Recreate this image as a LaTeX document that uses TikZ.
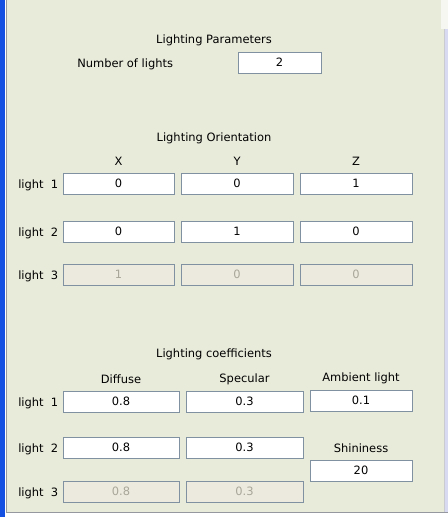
\documentclass[tikz,border=0pt]{standalone}
\usepackage{fontspec}
\setmainfont{DejaVu Sans}
\definecolor{panelbg}{RGB}{232,234,218}
\definecolor{winblue}{RGB}{20,80,225}
\definecolor{fieldline}{RGB}{128,146,162}
\definecolor{offbg}{RGB}{236,234,222}
\definecolor{offtext}{RGB}{168,166,152}
\definecolor{edgeline}{RGB}{150,152,160}
\definecolor{barside}{RGB}{215,218,240}
\tikzset{
  field/.style={draw=fieldline, fill=white, minimum width=#1*0.75pt, minimum height=15.75pt, inner sep=0pt},
  offfield/.style={field=#1, fill=offbg, text=offtext},
  caption/.style={inner sep=0pt, yshift=-0.75pt}
}

\begin{document}
\begin{tikzpicture}[x=0.75pt, y=-0.75pt, every node/.style={font=\fontsize{8.6}{10}\selectfont}]
        % Window frame
        \useasboundingbox (0,0) rectangle (448,517);
        \fill[panelbg] (0,0) rectangle (448,517);
        \fill[winblue] (0,0) rectangle (5,517);
        \fill[white] (5,0) rectangle (6,517);
        \fill[edgeline] (6,0) rectangle (7,513);
        \fill[edgeline] (6,512) rectangle (448,513);
        \fill[white] (6,513) rectangle (448,517);
        \fill[white!60!panelbg] (441,0) rectangle (448,29);
        \fill[barside] (444,29) rectangle (448,512);
        \fill[edgeline!50] (444,29) rectangle (445,512);

        % Lighting parameters
        \node[caption] (partitle) at (214,39) {Lighting Parameters};
        \node[caption, anchor=west] (numlabel) at (77,63) {Number of lights};
        \node[field=83] (numlights) at (279.5,62.5) {2};

        % Lighting orientation
        \node[caption] (orititle) at (214,137) {Lighting Orientation};
        \node[caption] (xhead) at (118.5,160) {X};
        \node[caption] (yhead) at (237,160) {Y};
        \node[caption] (zhead) at (356,160) {Z};

        \node[caption, anchor=west] (olight1) at (18,184) {light\ \ 1};
        \node[field=111] (ox1) at (118.5,183.5) {0};
        \node[field=112] (oy1) at (237,183.5) {0};
        \node[field=112] (oz1) at (356,183.5) {1};

        \node[caption, anchor=west] (olight2) at (18,232) {light\ \ 2};
        \node[field=111] (ox2) at (118.5,231.5) {0};
        \node[field=112] (oy2) at (237,231.5) {1};
        \node[field=112] (oz2) at (356,231.5) {0};

        \node[caption, anchor=west] (olight3) at (18,275) {light\ \ 3};
        \node[offfield=111] (ox3) at (118.5,274.5) {1};
        \node[offfield=112] (oy3) at (237,274.5) {0};
        \node[offfield=112] (oz3) at (356,274.5) {0};

        % Lighting coefficients
        \node[caption] (coeftitle) at (214,353) {Lighting coefficients};
        \node[caption] (diffhead) at (121,378) {Diffuse};
        \node[caption] (spechead) at (244.5,378) {Specular};
        \node[caption] (ambhead) at (361,377) {Ambient light};

        \node[caption, anchor=west] (clight1) at (18,402) {light\ \ 1};
        \node[field=116] (cd1) at (121,401.5) {0.8};
        \node[field=117] (cs1) at (244.5,401.5) {0.3};
        \node[field=102] (ambient) at (361,400.5) {0.1};

        \node[caption, anchor=west] (clight2) at (18,448) {light\ \ 2};
        \node[field=116] (cd2) at (121,447.5) {0.8};
        \node[field=117] (cs2) at (244.5,447.5) {0.3};
        \node[caption] (shinhead) at (361,447) {Shininess};
        \node[field=102] (shininess) at (361,470.5) {20};

        \node[caption, anchor=west] (clight3) at (18,492) {light\ \ 3};
        \node[offfield=116] (cd3) at (121,491.5) {0.8};
        \node[offfield=117] (cs3) at (244.5,491.5) {0.3};

      \end{tikzpicture}
\end{document}
